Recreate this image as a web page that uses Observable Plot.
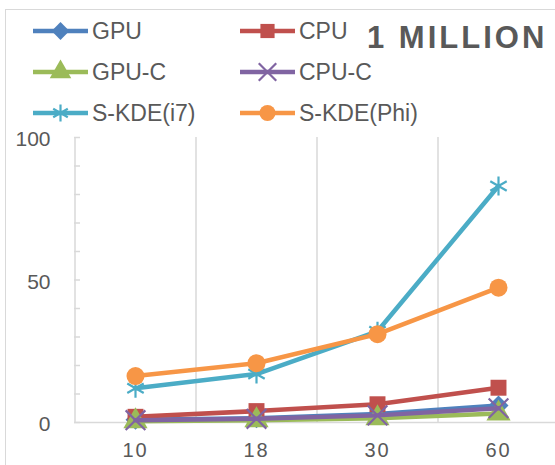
<!DOCTYPE html>
<html>
<head>
<meta charset="utf-8">
<script src="https://cdn.jsdelivr.net/npm/d3@7"></script>
<script src="https://cdn.jsdelivr.net/npm/@observablehq/plot@0.6"></script>
<style>
  html, body { margin: 0; padding: 0; background: #fff; }
  #wrap { position: relative; width: 555px; height: 465px; overflow: hidden; font-family: "Liberation Sans", Arial, sans-serif; }
  #border { position: absolute; left: 5px; top: 9px; width: 600px; height: 500px; border: 1.5px solid #d9d9d9; box-sizing: border-box; }
  #chart { position: absolute; left: 0; top: 0; }
  #legend { position: absolute; left: 0; top: 0; }
</style>
</head>
<body>
<div id="wrap">
  <div id="border"></div>
  <div id="chart"></div>
  <svg id="legend" width="555" height="135"></svg>
</div>
<script>
// ---- data ----
const xLabels = ["10", "18", "30", "60"];
const seriesNames = ["GPU", "CPU", "GPU-C", "CPU-C", "S-KDE(i7)", "S-KDE(Phi)"];
const gpu     = [1.0, 1.5, 3.0, 6.0];
const cpu     = [2.0, 4.0, 6.4, 12.2];
const gpuC    = [0.4, 0.8, 1.5, 3.2];
const cpuC    = [0.8, 1.3, 2.5, 5.0];
const skdeI7  = [12, 17, 32, 83];
const skdePhi = [16.3, 20.8, 31, 47.3];
const yTicks = [0, 50, 100];
const minorTicks = [0, 10, 20, 30, 40, 50, 60, 70, 80, 90, 100];
const titleText = "1 MILLION";

const seriesValues = [gpu, cpu, gpuC, cpuC, skdeI7, skdePhi];
const colors = ["#4F81BD", "#C0504D", "#9BBB59", "#8064A2", "#4BACC6", "#F79646"];
const symbols = ["diamond2", "square", "triangle", "times", "asterisk", "circle"];
const strokeSymbols = new Set(["times", "asterisk"]);

const rows = [];
seriesNames.forEach((s, i) => {
  seriesValues[i].forEach((v, j) => rows.push({series: s, x: xLabels[j], y: v, idx: i}));
});

const textColor = "#595959";
const gridColor = "#d9d9d9";

const marks = [
  // vertical gridlines between categories
  Plot.ruleX(xLabels, {x: d => d, y1: 0, y2: 100, dx: 60.5, stroke: gridColor, strokeWidth: 1.5}),
  // y axis line
  Plot.ruleX([xLabels[0]], {x: d => d, y1: 0, y2: 100, dx: -60.5, stroke: gridColor, strokeWidth: 1.5}),
  // minor ticks (short inward marks)
  Plot.ruleY(minorTicks, {y: d => d, insetRight: 555 - 74 - 6, stroke: gridColor, strokeWidth: 1.5}),
  Plot.axisY({ticks: yTicks, tickSize: 0, tickPadding: 24, dy: 2, fontSize: 21, fill: textColor, label: null}),
  Plot.axisX({tickSize: 0, tickPadding: 20, fontSize: 20, fill: textColor, label: null}),
  Plot.ruleY([0], {stroke: gridColor, strokeWidth: 1.5})
];
seriesNames.forEach((s, i) => {
  const data = rows.filter(d => d.series === s);
  marks.push(Plot.line(data, {x: "x", y: "y", stroke: colors[i], strokeWidth: 4.5}));
  if (strokeSymbols.has(symbols[i])) {
    marks.push(Plot.dot(data, {x: "x", y: "y", symbol: symbols[i], r: 9, stroke: colors[i], strokeWidth: 2.2}));
  } else {
    marks.push(Plot.dot(data, {x: "x", y: "y", symbol: symbols[i], r: 9, fill: colors[i], stroke: "none"}));
  }
});

const chart = Plot.plot({
  width: 555,
  height: 465,
  marginTop: 137,
  marginBottom: 43,
  marginLeft: 74,
  marginRight: 0,
  x: {type: "point", domain: xLabels, range: [134.5, 497.5], padding: 0, label: null},
  y: {domain: [0, 100], range: [422, 137], label: null},
  style: {fontFamily: '"Liberation Sans", Arial, sans-serif', fontSize: "20px", color: textColor, background: "transparent", overflow: "visible"},
  marks
});
document.getElementById("chart").appendChild(chart);
// enforce tick label typography
d3.select(chart).selectAll('g[aria-label="y-axis tick label"] text')
  .style("font-size", "21px");
d3.select(chart).selectAll('g[aria-label="x-axis tick label"] text')
  .style("font-size", "20px").style("letter-spacing", "2px");

// ---- legend & title ----
const lg = d3.select("#legend");
const colX = [33, 240];
const rowY = [39, 80, 121];
const symMap = {diamond2: d3.symbolDiamond2, square: d3.symbolSquare, triangle: d3.symbolTriangle,
                times: d3.symbolTimes, asterisk: d3.symbolAsterisk, circle: d3.symbolCircle};
seriesNames.forEach((s, i) => {
  const cx = colX[i % 2], by = rowY[Math.floor(i / 2)];
  const cy = by - 8;
  const g = lg.append("g");
  g.append("line").attr("x1", cx).attr("x2", cx + 55).attr("y1", cy).attr("y2", cy)
    .attr("stroke", colors[i]).attr("stroke-width", 4.5);
  const path = g.append("path")
    .attr("d", d3.symbol(symMap[symbols[i]], Math.PI * 8 * 8)())
    .attr("transform", `translate(${cx + 27.5},${cy})`);
  if (strokeSymbols.has(symbols[i])) path.attr("fill", "none").attr("stroke", colors[i]).attr("stroke-width", 2.2);
  else path.attr("fill", colors[i]);
  g.append("text").attr("x", cx + 59).attr("y", by).text(s)
    .attr("fill", textColor).attr("font-size", 23).attr("font-family", '"Liberation Sans", Arial, sans-serif');
});
lg.append("text").attr("x", 367).attr("y", 48).text(titleText)
  .attr("fill", textColor).attr("font-size", 31).attr("font-weight", "bold")
  .attr("letter-spacing", "3px").attr("font-family", '"Liberation Sans", Arial, sans-serif');
</script>
</body>
</html>
